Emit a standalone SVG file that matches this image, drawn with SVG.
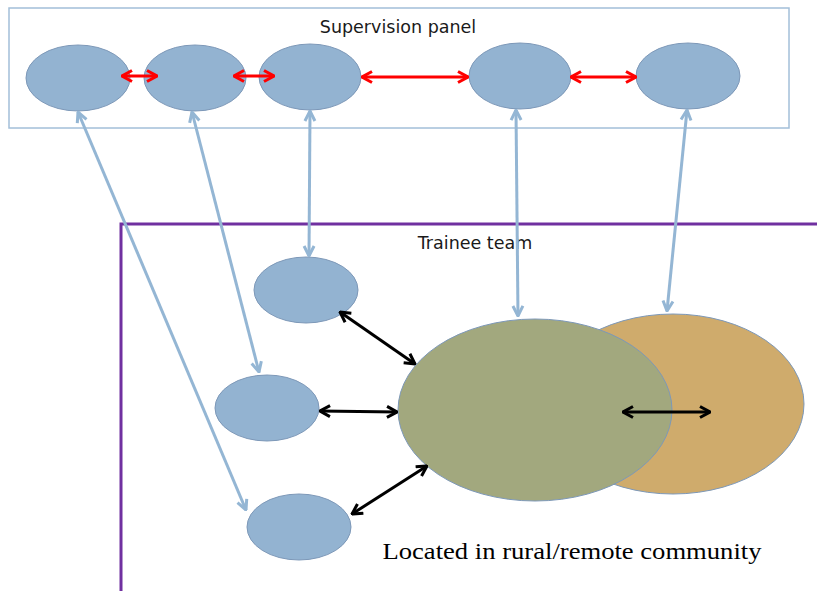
<svg xmlns="http://www.w3.org/2000/svg" width="817" height="591" viewBox="0 0 817 591">
<style>
.blue{fill:#93B3D1;stroke:#7D98B8;stroke-width:1}
.lbl{font-family:"DejaVu Sans",sans-serif;font-size:17.5px;fill:#1a1a1a}
.red{stroke:#FF0000;stroke-width:3;fill:none}
.lb{stroke:#94B6D4;stroke-width:3;fill:none}
.blk{stroke:#000;stroke-width:3;fill:none}
</style>
<defs>
<marker id="mr" viewBox="0 0 12 14" refX="11" refY="7" markerWidth="12" markerHeight="14" orient="auto-start-reverse" markerUnits="userSpaceOnUse"><path d="M1,1.5 L11,7 L1,12.5" fill="none" stroke="#FF0000" stroke-width="3"/></marker>
<marker id="mb" viewBox="0 0 12 14" refX="11" refY="7" markerWidth="12" markerHeight="14" orient="auto-start-reverse" markerUnits="userSpaceOnUse"><path d="M1,2 L11,7 L1,12" fill="none" stroke="#94B6D4" stroke-width="3"/></marker>
<marker id="mk" viewBox="0 0 12 14" refX="11" refY="7" markerWidth="12" markerHeight="14" orient="auto-start-reverse" markerUnits="userSpaceOnUse"><path d="M1,1.5 L11,7 L1,12.5" fill="none" stroke="#000" stroke-width="3"/></marker>
</defs>
<rect width="817" height="591" fill="#fff"/>
<g id="supervision-panel">
<rect x="9" y="8" width="780" height="120" fill="none" stroke="#A3BFD9" stroke-width="1.5"/>
<text class="lbl" x="398" y="33" text-anchor="middle">Supervision panel</text>
</g>
<g id="trainee-team">
<path d="M121,591 L121,224 L817,224" fill="none" stroke="#7030A0" stroke-width="3"/>
<text class="lbl" x="475" y="249" text-anchor="middle">Trainee team</text>
</g>
<g id="sup1"><ellipse class="blue" cx="78" cy="78" rx="52" ry="33"/></g>
<g id="sup2"><ellipse class="blue" cx="195" cy="78" rx="51" ry="33"/></g>
<g id="sup3"><ellipse class="blue" cx="310" cy="77" rx="51" ry="33"/></g>
<g id="sup4"><ellipse class="blue" cx="520" cy="76" rx="51" ry="33"/></g>
<g id="sup5"><ellipse class="blue" cx="688" cy="76" rx="52" ry="33"/></g>
<g id="trainee1"><ellipse class="blue" cx="306" cy="290" rx="52" ry="33"/></g>
<g id="trainee2"><ellipse class="blue" cx="267" cy="408" rx="52" ry="33"/></g>
<g id="trainee3"><ellipse class="blue" cx="299" cy="527" rx="52" ry="33"/></g>
<g id="community"><ellipse cx="673" cy="404" rx="131" ry="90" fill="#CFAB6C" stroke="#7D98B8" stroke-width="1"/></g>
<g id="team"><ellipse cx="535" cy="410" rx="137" ry="91" fill="#A2A87E" stroke="#7D98B8" stroke-width="1"/></g>
<g id="location-label"><text x="572" y="559" text-anchor="middle" font-family="'Liberation Serif',serif" font-size="24" fill="#000" textLength="379" lengthAdjust="spacingAndGlyphs">Located in rural/remote community</text></g>
<g id="connectors">
<line class="red" x1="122" y1="76" x2="157" y2="76" marker-start="url(#mr)" marker-end="url(#mr)"/>
<line class="red" x1="234" y1="76" x2="274" y2="76" marker-start="url(#mr)" marker-end="url(#mr)"/>
<line class="red" x1="362" y1="77" x2="468" y2="77" marker-start="url(#mr)" marker-end="url(#mr)"/>
<line class="red" x1="571" y1="77" x2="636" y2="77" marker-start="url(#mr)" marker-end="url(#mr)"/>
<line class="lb" x1="78" y1="112" x2="246" y2="510" marker-start="url(#mb)" marker-end="url(#mb)"/>
<line class="lb" x1="192" y1="112" x2="259" y2="372" marker-start="url(#mb)" marker-end="url(#mb)"/>
<line class="lb" x1="310" y1="111" x2="309" y2="256" marker-start="url(#mb)" marker-end="url(#mb)"/>
<line class="lb" x1="516" y1="110" x2="518" y2="316" marker-start="url(#mb)" marker-end="url(#mb)"/>
<line class="lb" x1="687" y1="110" x2="667" y2="311" marker-start="url(#mb)" marker-end="url(#mb)"/>
<line class="blk" x1="340" y1="312" x2="415" y2="364" marker-start="url(#mk)" marker-end="url(#mk)"/>
<line class="blk" x1="320" y1="411" x2="397" y2="412" marker-start="url(#mk)" marker-end="url(#mk)"/>
<line class="blk" x1="352" y1="514" x2="427" y2="466" marker-start="url(#mk)" marker-end="url(#mk)"/>
<line class="blk" x1="623" y1="412" x2="710" y2="412" marker-start="url(#mk)" marker-end="url(#mk)"/>
</g>
</svg>
